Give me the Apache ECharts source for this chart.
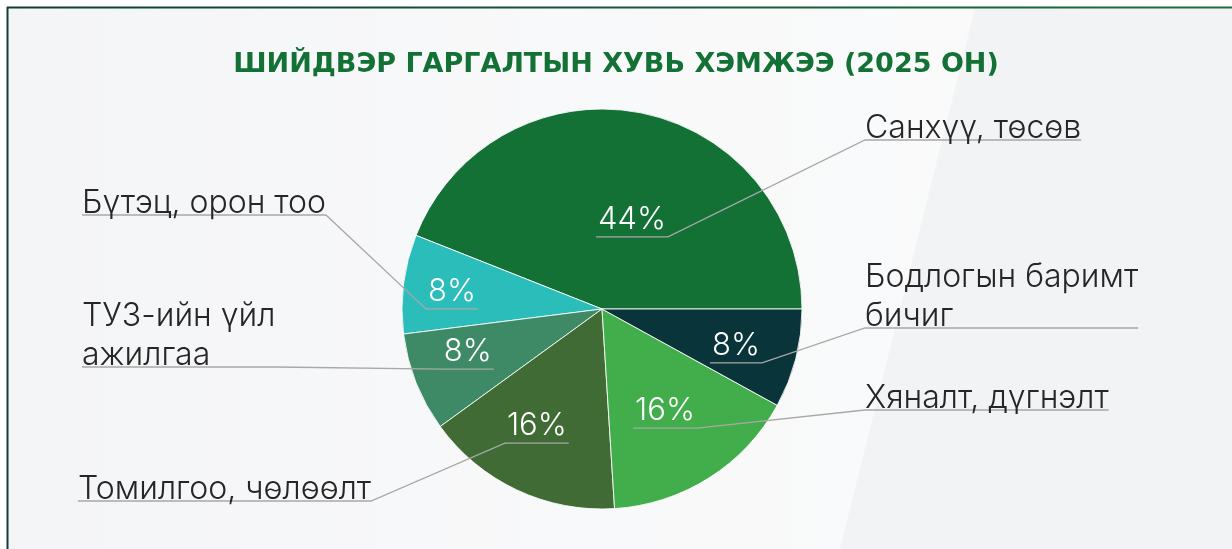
<!DOCTYPE html>
<html><head><meta charset="utf-8">
<style>html,body{margin:0;padding:0;background:#fff}#c{width:1232px;height:549px}</style>
<script src="https://cdn.jsdelivr.net/npm/echarts@6/dist/echarts.min.js"></script>
</head><body><div id="c"></div>
<script>
// ---- data ----
const categories = ['Санхүү, төсөв', 'Бүтэц, орон тоо', 'ТУЗ-ийн үйл\nажилгаа', 'Томилгоо, чөлөөлт', 'Хяналт, дүгнэлт', 'Бодлогын баримт\nбичиг'];
const values = [44, 8, 8, 16, 16, 8];
const titleText = 'ШИЙДВЭР ГАРГАЛТЫН ХУВЬ ХЭМЖЭЭ (2025 ОН)';

// ---- style / layout ----
const colors = ['#137136', '#2bbdba', '#3e8a66', '#416b35', '#41ae4b', '#09343a'];
const CX = 602, CY = 309, R = 200;
const pctRadius = [94, 151, 141, 134, 120, 139];
const pctAngleShift = [-7.8, 0.7, -3.8, -3.9, -0.7, -1.0];
const nameX = [865, 82, 82, 78, 865, 865];
const nameLineY = [140, 215, 367, 501, 410, 328];
const PCT_FONT = 'Inter';
const NAME_FONT = 'Inter';
const PCT_SIZE = 31, NAME_SIZE = 32;
const LINE_COLOR = '#a8a8a8';

const measureCtx = document.createElement('canvas').getContext('2d');
function textWidth(t, weight, size, family) {
  measureCtx.font = weight + ' ' + size + 'px ' + family;
  return measureCtx.measureText(t).width;
}
function pctPos(ux, uy, i) {
  const a = Math.atan2(-uy, ux) + pctAngleShift[i] * Math.PI / 180;
  return [CX + pctRadius[i] * Math.cos(a), CY - pctRadius[i] * Math.sin(a)];
}

const data = categories.map((n, i) => ({ name: n, value: values[i], itemStyle: { color: colors[i] } }));
const hiddenData = categories.map((n, i) => ({ name: n, value: values[i] }));

const chart = echarts.init(document.getElementById('c'), null, { renderer: 'canvas' });
chart.setOption({
  backgroundColor: '#ffffff',
  animation: false,
  title: {
    text: titleText, left: 'center', top: 46,
    textStyle: { color: '#137136', fontFamily: 'DejaVu Sans', fontWeight: 'bold', fontSize: 27 }
  },
  graphic: [
    { type: 'rect', z: -100, shape: { x: 7, y: 7, width: 1240, height: 560 }, style: { fill: '#f2f3f5' } },
    { type: 'polygon', z: -99, shape: { points: [[7, 8], [975, 8], [840, 549], [7, 549]] },
      style: { fill: new echarts.graphic.LinearGradient(0, 0, 1, 0, [{ offset: 0, color: 'rgba(255,255,255,0.15)' }, { offset: 0.5, color: 'rgba(255,255,255,0.45)' }, { offset: 1, color: 'rgba(255,255,255,0.6)' }]) } },
    { type: 'line', z: -98, shape: { x1: 7, y1: 7.5, x2: 1232, y2: 7.5 }, style: { stroke: new echarts.graphic.LinearGradient(0, 0, 1, 0, [{ offset: 0, color: '#0f3d37' }, { offset: 1, color: '#1c6e3f' }]), lineWidth: 2 } },
    { type: 'line', z: -98, shape: { x1: 7.5, y1: 7, x2: 7.5, y2: 549 }, style: { stroke: '#0f3d37', lineWidth: 2 } }
  ],
  series: [
    {
      type: 'pie', center: [CX, CY], radius: [0, R], startAngle: 0, clockwise: false,
      avoidLabelOverlap: false, silent: true,
      itemStyle: { borderColor: 'rgba(255,255,255,0.85)', borderWidth: 1 },
      label: {
        position: 'inside', formatter: '{c}%', color: '#ffffff',
        fontFamily: PCT_FONT, fontWeight: 300, fontSize: PCT_SIZE
      },
      labelLayout: function (p) {
        const r = p.labelRect;
        const lx = r.x + r.width / 2 - CX, ly = r.y + r.height / 2 - CY;
        const len = Math.hypot(lx, ly) || 1;
        const pos = pctPos(lx / len, ly / len, p.dataIndex);
        return { x: pos[0], y: pos[1], align: 'center', verticalAlign: 'middle' };
      },
      data: data
    },
    {
      type: 'pie', center: [CX, CY], radius: [0, 20], startAngle: 0, clockwise: false,
      avoidLabelOverlap: false, silent: true, z: 3,
      itemStyle: { color: 'rgba(0,0,0,0)' },
      label: {
        position: 'outside', formatter: '{b}', color: '#262626',
        fontFamily: NAME_FONT, fontWeight: 300, fontSize: NAME_SIZE, lineHeight: 39
      },
      labelLine: { show: true, length: 10, length2: 10, lineStyle: { color: LINE_COLOR, width: 1.3 } },
      labelLayout: function (p) {
        const i = p.dataIndex;
        let ux, uy;
        if (p.labelLinePoints && p.labelLinePoints[0]) {
          ux = p.labelLinePoints[0][0] - CX; uy = p.labelLinePoints[0][1] - CY;
        } else {
          ux = p.labelRect.x + p.labelRect.width / 2 - CX; uy = p.labelRect.y + p.labelRect.height / 2 - CY;
        }
        const len = Math.hypot(ux, uy) || 1; ux /= len; uy /= len;
        const pos = pctPos(ux, uy, i);
        const w = textWidth(values[i] + '%', 300, PCT_SIZE, PCT_FONT) / 2 + 2;
        const uyLine = pos[1] + 17;
        const left = ux < 0;
        const innerNear = [left ? pos[0] - w : pos[0] + w, uyLine];
        const innerFar = [left ? pos[0] + w : pos[0] - w, uyLine];
        const lw = p.labelRect.width;
        const y = nameLineY[i];
        const outerNear = [left ? nameX[i] + lw : nameX[i], y];
        const outerFar = [left ? nameX[i] : nameX[i] + lw, y];
        return {
          x: nameX[i], y: y + 7.5, align: 'left', verticalAlign: 'bottom',
          labelLinePoints: [innerFar, innerNear, outerNear, outerFar]
        };
      },
      data: hiddenData
    }
  ]
});
</script></body></html>
